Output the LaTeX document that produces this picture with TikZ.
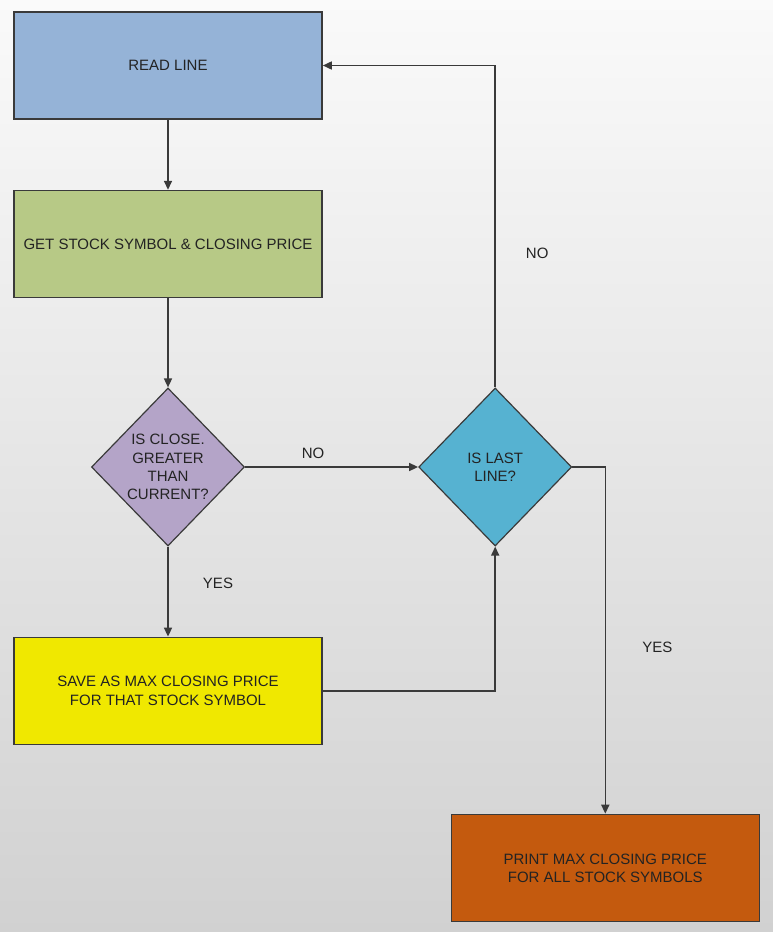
\documentclass[tikz,border=0pt]{standalone}
\usepackage{fontspec}
\setmainfont{Liberation Sans}
\usetikzlibrary{positioning,calc,shapes.geometric,arrows.meta}

\definecolor{readblue}{RGB}{149,179,215}
\definecolor{getgreen}{RGB}{183,201,134}
\definecolor{closepurple}{RGB}{180,164,200}
\definecolor{lastcyan}{RGB}{86,178,209}
\definecolor{saveyellow}{RGB}{240,232,0}
\definecolor{printorange}{RGB}{196,90,14}
\definecolor{linegray}{RGB}{58,58,58}
\definecolor{textgray}{RGB}{35,35,35}

\begin{document}
\begin{tikzpicture}[
    font=\fontsize{15}{18.3}\selectfont,
    line width=1.6pt
  ]
\def\nw{100pt}

% page and its gradient
\useasboundingbox (0,0) rectangle (773pt,-932pt);
\shade[top color=black!2,bottom color=black!18] (0,0) rectangle (773pt,-932pt);

\tikzstyle{box}=[rectangle,draw=linegray,text=textgray,align=center,minimum width=3.08*\nw,minimum height=1.07*\nw]
\tikzstyle{ask}=[diamond,draw=linegray,line width=1.2pt,text=textgray,align=center,inner sep=0pt,minimum width=1.53*\nw,minimum height=1.58*\nw]
\tikzstyle{lbl}=[text=textgray,inner sep=0pt]
\tikzstyle{arr}=[draw=linegray,-{Triangle[length=9pt,width=8pt]}]

\node[box,fill=readblue] at (168pt,-65.5pt) (readline) {READ LINE};
\node[box,fill=getgreen,node distance=.70*\nw,below = of readline] (getsymbol) {GET STOCK SYMBOL \& CLOSING PRICE};
\node[ask,fill=closepurple,node distance=.89*\nw,below = of getsymbol] (closegt) {IS CLOSE.\\GREATER\\THAN\\CURRENT?};
\node[box,fill=saveyellow,node distance=.90*\nw,below = of closegt] (savemax) {SAVE AS MAX CLOSING PRICE\\FOR THAT STOCK SYMBOL};
\node[ask,fill=lastcyan,node distance=1.73*\nw,right = of closegt] (lastline) {IS LAST\\LINE?};
\node[box,fill=printorange] at ($ (lastline.east) + (.33*\nw,-4.01*\nw) $) (printmax) {PRINT MAX CLOSING PRICE\\FOR ALL STOCK SYMBOLS};

\draw[arr] (readline.south) -- (getsymbol.north);
\draw[arr] (getsymbol.south) -- (closegt.north);
\draw[arr] (closegt.south) -- (savemax.north);
\draw[arr] (closegt.east) -- (lastline.west);
\draw[arr] (savemax.east) -| (lastline.south);
\draw[arr] (lastline.north) |- (readline.east);
\draw[arr] (lastline.east) -| (printmax.north);

\node[lbl] at ($ (closegt.east) + (.68*\nw,.14*\nw) $) (nonext) {NO};
\node[lbl] at ($ (closegt.south) + (.50*\nw,-.37*\nw) $) (yessave) {YES};
\node[lbl] at ($ (lastline.north) + (.42*\nw,1.34*\nw) $) (noread) {NO};
\node[lbl] at ($ (lastline.east) + (.85*\nw,-1.80*\nw) $) (yesprint) {YES};

\end{tikzpicture}
\end{document}
